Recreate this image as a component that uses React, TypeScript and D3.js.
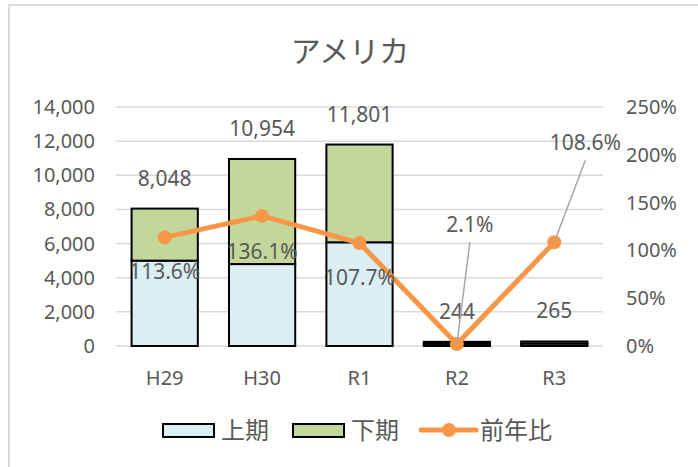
import { useEffect, useRef } from 'react';
import * as d3 from 'd3';

const categories = ['H29', 'H30', 'R1', 'R2', 'R3'];
const firstHalf = [5000, 4800, 6075, 130, 140];
const secondHalf = [3048, 6154, 5726, 114, 125];
const totals = [8048, 10954, 11801, 244, 265];
const yoy = [113.6, 136.1, 107.7, 2.1, 108.6];
const leftTicks = [0, 2000, 4000, 6000, 8000, 10000, 12000, 14000];
const rightTicks = [0, 50, 100, 150, 200, 250];
const seriesNames = ['上期', '下期', '前年比'];

const W = 698;
const H = 467;
const TEXT = '#595959';
const LATIN = '"Noto Sans", "Noto Sans CJK JP", sans-serif';
const CJK = '"Noto Sans CJK JP", sans-serif';

// manual label offsets (dx, dy from the point) for the yoy labels
const yoyLabelOffset: [number, number][] = [
  [0, 35],
  [0, 36],
  [0, 35],
  [13, -119],
  [31, -99],
];
const leaderIdx = [3, 4];

export default function App() {
  const svgRef = useRef<SVGSVGElement>(null);

  useEffect(() => {
    if (!svgRef.current) return;
    const svg = d3.select(svgRef.current);
    svg.selectAll('*').remove();

    const plot = { left: 116, right: 603, top: 107, bottom: 346 };

    // chart border
    svg
      .append('rect')
      .attr('x', 9)
      .attr('y', 5)
      .attr('width', W)
      .attr('height', H)
      .attr('fill', '#fff')
      .attr('stroke', '#d9d9d9')
      .attr('stroke-width', 2);

    const x = d3.scaleBand().domain(categories).range([plot.left, plot.right]).padding(0);
    const y = d3.scaleLinear().domain([0, 14000]).range([plot.bottom, plot.top]);
    const y2 = d3.scaleLinear().domain([0, 250]).range([plot.bottom, plot.top]);
    const barW = x.bandwidth() * 0.68;
    const cx = (c: string) => (x(c) || 0) + x.bandwidth() / 2;

    // Title
    svg
      .append('text')
      .attr('x', 350)
      .attr('y', 62)
      .attr('text-anchor', 'middle')
      .attr('fill', TEXT)
      .attr('font-family', CJK)
      .attr('font-size', '30px')
      .text('アメリカ');

    // Grid lines
    svg
      .append('g')
      .selectAll('line')
      .data(leftTicks)
      .enter()
      .append('line')
      .attr('x1', plot.left)
      .attr('x2', plot.right)
      .attr('y1', (d) => y(d))
      .attr('y2', (d) => y(d))
      .attr('stroke', '#d9d9d9')
      .attr('stroke-width', 1.5);

    // Left axis labels
    svg
      .append('g')
      .selectAll('text')
      .data(leftTicks)
      .enter()
      .append('text')
      .attr('x', 95)
      .attr('y', (d) => y(d) + 7)
      .attr('text-anchor', 'end')
      .attr('fill', TEXT)
      .attr('font-family', LATIN)
      .attr('font-size', '20px')
      .text((d) => d3.format(',')(d));

    // Right axis labels
    svg
      .append('g')
      .selectAll('text')
      .data(rightTicks)
      .enter()
      .append('text')
      .attr('x', 626)
      .attr('y', (d) => y2(d) + 7)
      .attr('fill', TEXT)
      .attr('font-family', LATIN)
      .attr('font-size', '20px')
      .text((d) => `${d}%`);

    // X labels
    svg
      .append('g')
      .selectAll('text')
      .data(categories)
      .enter()
      .append('text')
      .attr('x', (d) => cx(d))
      .attr('y', 385)
      .attr('text-anchor', 'middle')
      .attr('fill', TEXT)
      .attr('font-family', LATIN)
      .attr('font-size', '20px')
      .text((d) => d);

    // Stacked bars
    const stackData = categories.map((c, i) => ({ c, a: firstHalf[i], b: secondHalf[i] }));
    const bars = svg.append('g');
    bars
      .selectAll('.lower')
      .data(stackData)
      .enter()
      .append('rect')
      .attr('x', (d) => cx(d.c) - barW / 2)
      .attr('y', (d) => y(d.a))
      .attr('width', barW)
      .attr('height', (d) => y(0) - y(d.a))
      .attr('fill', '#daeef3')
      .attr('stroke', '#000')
      .attr('stroke-width', 2);
    bars
      .selectAll('.upper')
      .data(stackData)
      .enter()
      .append('rect')
      .attr('x', (d) => cx(d.c) - barW / 2)
      .attr('y', (d) => y(d.a + d.b))
      .attr('width', barW)
      .attr('height', (d) => y(d.a) - y(d.a + d.b))
      .attr('fill', '#c4d79b')
      .attr('stroke', '#000')
      .attr('stroke-width', 2);

    // Total labels
    svg
      .append('g')
      .selectAll('text')
      .data(totals)
      .enter()
      .append('text')
      .attr('x', (_, i) => cx(categories[i]))
      .attr('y', (d) => y(d) - 23)
      .attr('text-anchor', 'middle')
      .attr('fill', TEXT)
      .attr('font-family', LATIN)
      .attr('font-size', '21px')
      .text((d) => d3.format(',')(d));

    // YoY line
    const line = d3
      .line<number>()
      .x((_, i) => cx(categories[i]))
      .y((d) => y2(d));
    svg
      .append('path')
      .datum(yoy)
      .attr('fill', 'none')
      .attr('stroke', '#f79646')
      .attr('stroke-width', 5)
      .attr('stroke-linejoin', 'round')
      .attr('d', line);
    svg
      .append('g')
      .selectAll('circle')
      .data(yoy)
      .enter()
      .append('circle')
      .attr('cx', (_, i) => cx(categories[i]))
      .attr('cy', (d) => y2(d))
      .attr('r', 7)
      .attr('fill', '#f79646');

    // Leader lines
    svg
      .append('g')
      .selectAll('line')
      .data(leaderIdx)
      .enter()
      .append('line')
      .attr('x1', (i) => cx(categories[i]))
      .attr('y1', (i) => y2(yoy[i]))
      .attr('x2', (i) => cx(categories[i]) + yoyLabelOffset[i][0])
      .attr('y2', (i) => y2(yoy[i]) + yoyLabelOffset[i][1] + 17)
      .attr('stroke', '#a6a6a6')
      .attr('stroke-width', 1.5);

    // YoY labels
    svg
      .append('g')
      .selectAll('text')
      .data(yoy)
      .enter()
      .append('text')
      .attr('x', (_, i) => cx(categories[i]) + yoyLabelOffset[i][0])
      .attr('y', (d, i) => y2(d) + yoyLabelOffset[i][1] + 7)
      .attr('text-anchor', 'middle')
      .attr('fill', TEXT)
      .attr('font-family', LATIN)
      .attr('font-size', '21px')
      .text((d) => `${d.toFixed(1)}%`);

    // Legend
    const legend = svg.append('g').attr('transform', 'translate(0,430)');
    const swatchFill = ['#daeef3', '#c4d79b'];
    const swatchX = [163, 293];
    swatchX.forEach((sx, i) => {
      legend
        .append('rect')
        .attr('x', sx)
        .attr('y', -6)
        .attr('width', 51)
        .attr('height', 13)
        .attr('fill', swatchFill[i])
        .attr('stroke', '#000')
        .attr('stroke-width', 2);
      legend
        .append('text')
        .attr('x', sx + 58)
        .attr('y', 9)
        .attr('fill', TEXT)
        .attr('font-family', CJK)
        .attr('font-size', '24px')
        .text(seriesNames[i]);
    });
    legend
      .append('line')
      .attr('x1', 421)
      .attr('x2', 476)
      .attr('y1', 0)
      .attr('y2', 0)
      .attr('stroke', '#f79646')
      .attr('stroke-width', 5)
      .attr('stroke-linecap', 'round');
    legend.append('circle').attr('cx', 449).attr('cy', 0).attr('r', 7).attr('fill', '#f79646');
    legend
      .append('text')
      .attr('x', 480)
      .attr('y', 9)
      .attr('fill', TEXT)
      .attr('font-family', CJK)
      .attr('font-size', '24px')
      .text(seriesNames[2]);
  }, []);

  return (
    <svg
      ref={svgRef}
      width={W}
      height={H}
      style={{ position: 'absolute', left: 0, top: 0, background: '#fff' }}
    />
  );
}
